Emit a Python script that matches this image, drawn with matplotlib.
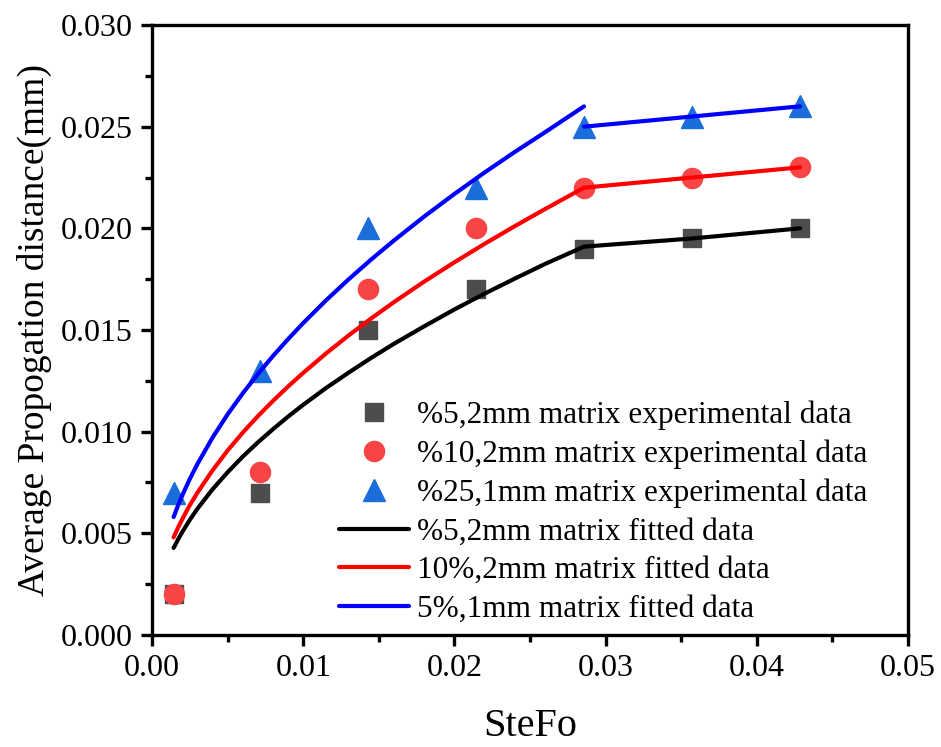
import matplotlib
matplotlib.use("Agg")
import matplotlib.pyplot as plt
from matplotlib.ticker import MultipleLocator

plt.rcParams['font.family'] = ['Liberation Serif', 'DejaVu Serif']

# Experimental data
stefo = [0.00143, 0.00714, 0.01429, 0.02143, 0.02857, 0.03571, 0.04286]
exp_5_2mm = [0.0020, 0.0070, 0.0150, 0.0170, 0.0190, 0.0195, 0.0200]
exp_10_2mm = [0.0020, 0.0080, 0.0170, 0.0200, 0.0220, 0.0225, 0.0230]
exp_25_1mm = [0.0070, 0.0130, 0.0200, 0.0220, 0.0250, 0.0255, 0.0260]

# Fitted curves
fit_x = [0.00143, 0.00175, 0.002, 0.0025, 0.003, 0.004, 0.005, 0.006, 0.007,
         0.008, 0.009, 0.010, 0.0115, 0.013, 0.0145, 0.016, 0.018, 0.020,
         0.022, 0.024, 0.026, 0.02857]
fit_5_2mm = [0.00428, 0.00473, 0.00506, 0.00566, 0.00620, 0.00716, 0.00800,
             0.00877, 0.00947, 0.01012, 0.01074, 0.01132, 0.01214, 0.01290,
             0.01363, 0.01432, 0.01518, 0.01601, 0.01679, 0.01753, 0.01825,
             0.0191]
fit_10_2mm = [0.00480, 0.00532, 0.00569, 0.00638, 0.00699, 0.00809, 0.00907,
              0.00995, 0.01076, 0.01151, 0.01222, 0.01289, 0.01384, 0.01473,
              0.01557, 0.01637, 0.01738, 0.01833, 0.01924, 0.02011, 0.02095,
              0.0220]
fit_5_1mm = [0.0058, 0.00642, 0.00686, 0.00767, 0.00840, 0.00970, 0.01085,
             0.01188, 0.01283, 0.01372, 0.01455, 0.01534, 0.01645, 0.01749,
             0.01847, 0.01940, 0.02058, 0.02169, 0.02275, 0.02376, 0.02473,
             0.0260]
tail_x = [0.02857, 0.03571, 0.04286]
tail_5_2mm = [0.0191, 0.0195, 0.0200]
tail_10_2mm = [0.0220, 0.0225, 0.0230]
tail_5_1mm = [0.0250, 0.0255, 0.0260]

fig = plt.figure(figsize=(9.41, 7.47), dpi=100)
ax = fig.add_axes([0.1615, 0.15, 0.8035, 0.8165])

ax.plot(stefo, exp_5_2mm, 's', color='#4d4d4d', markersize=13, linestyle='none',
        label='%5,2mm matrix experimental data', zorder=2)
ax.plot(stefo, exp_10_2mm, 'o', color='#f84444', markersize=14.5, linestyle='none',
        label='%10,2mm matrix experimental data', zorder=2)
ax.plot(stefo, exp_25_1mm, '^', color='#1a6ddb', markersize=16, linestyle='none',
        label='%25,1mm matrix experimental data', zorder=2)

lw = 3.0
ax.plot(fit_x, fit_5_2mm, '-', color='black', lw=lw,
        label='%5,2mm matrix fitted data', zorder=3, solid_capstyle='round')
ax.plot(fit_x, fit_10_2mm, '-', color='#ff0000', lw=lw,
        label='10%,2mm matrix fitted data', zorder=3, solid_capstyle='round')
ax.plot(fit_x, fit_5_1mm, '-', color='#0000ff', lw=lw,
        label='5%,1mm matrix fitted data', zorder=3, solid_capstyle='round')
ax.plot(tail_x, tail_5_2mm, '-', color='black', lw=lw, zorder=3, solid_capstyle='round')
ax.plot(tail_x, tail_10_2mm, '-', color='#ff0000', lw=lw, zorder=3, solid_capstyle='round')
ax.plot(tail_x, tail_5_1mm, '-', color='#0000ff', lw=lw, zorder=3, solid_capstyle='round')

ax.set_xlim(0, 0.05)
ax.set_ylim(0, 0.030)
ax.xaxis.set_major_locator(MultipleLocator(0.01))
ax.xaxis.set_minor_locator(MultipleLocator(0.005))
ax.yaxis.set_major_locator(MultipleLocator(0.005))
ax.yaxis.set_minor_locator(MultipleLocator(0.0025))
ax.xaxis.set_major_formatter(plt.FormatStrFormatter('%.2f'))
ax.yaxis.set_major_formatter(plt.FormatStrFormatter('%.3f'))

for s in ax.spines.values():
    s.set_linewidth(2.4)
ax.tick_params(which='major', direction='out', length=8, width=2.4,
               labelsize=23, top=False, right=False, pad=6)
ax.tick_params(which='minor', direction='out', length=5, width=2.4,
               top=False, right=False)

ax.set_xlabel('SteFo', fontsize=29, labelpad=18)
ax.set_ylabel('Average Propogation distance(mm)', fontsize=27, labelpad=6)

leg = ax.legend(loc='lower left', bbox_to_anchor=(0.247, 0.018), frameon=False,
                fontsize=22.5, handlelength=2.25, handletextpad=0.25,
                labelspacing=0.31, borderaxespad=0.0, borderpad=0.0)

fig.savefig('out.png', dpi=100)
